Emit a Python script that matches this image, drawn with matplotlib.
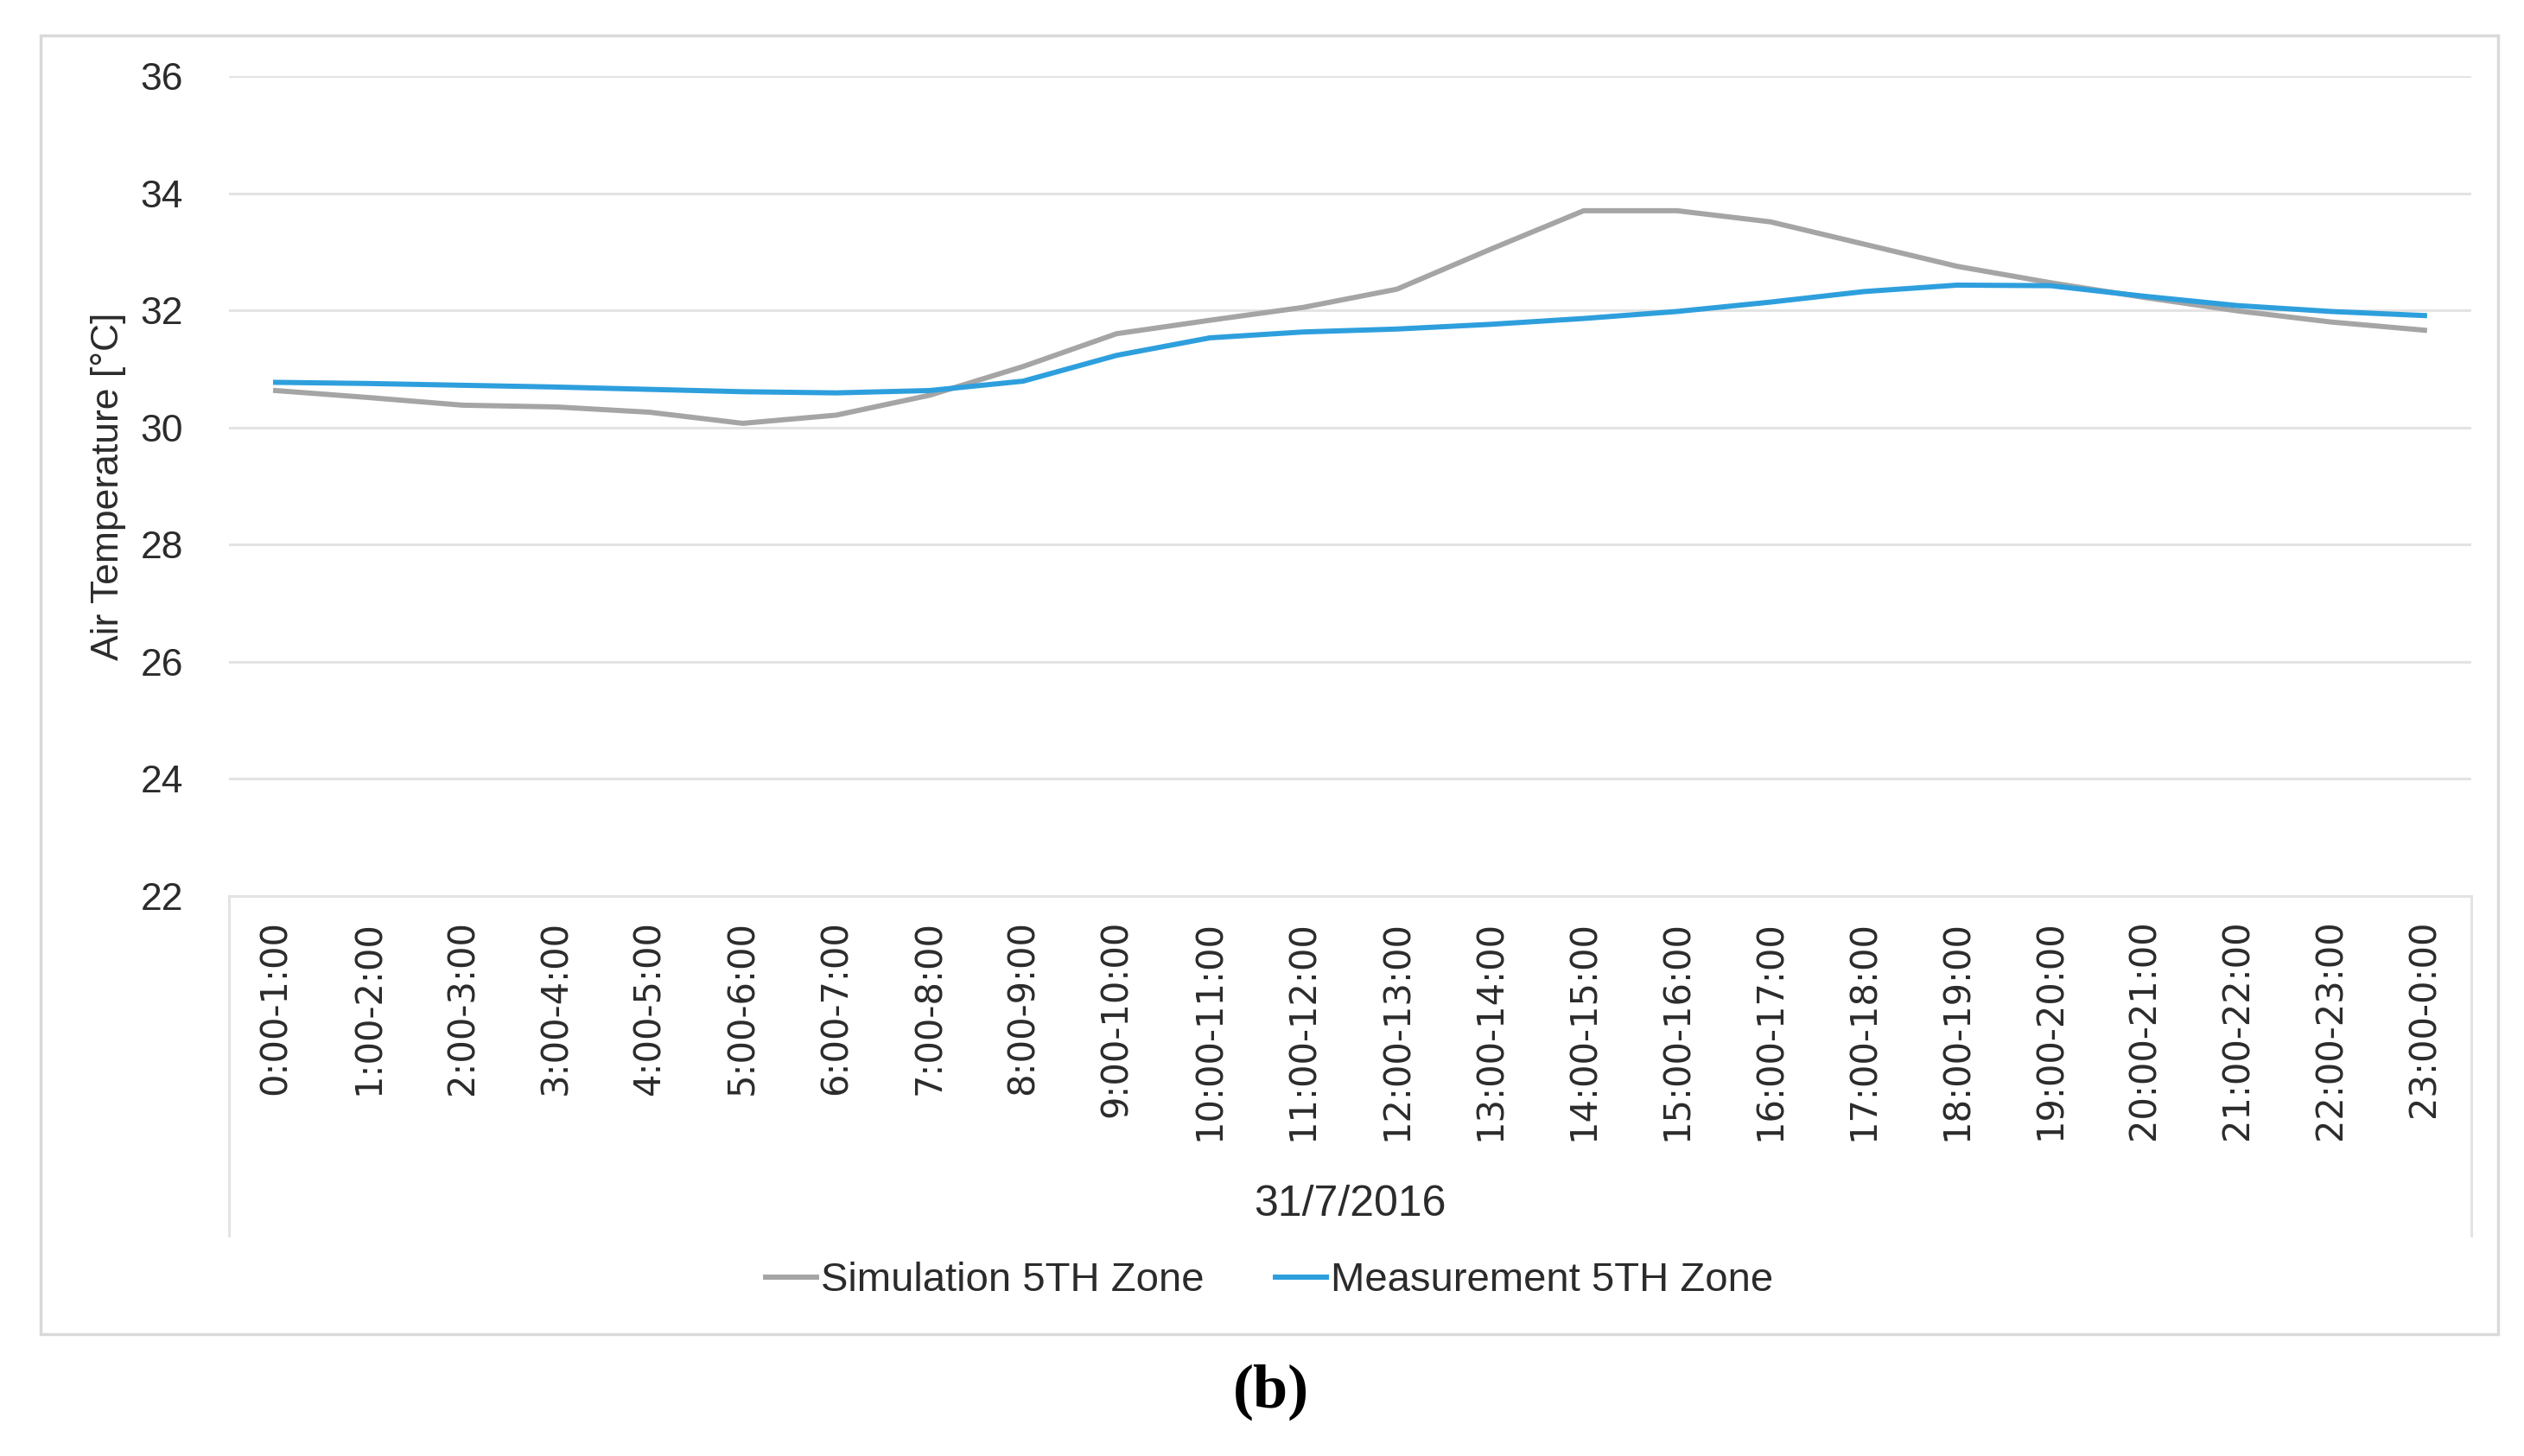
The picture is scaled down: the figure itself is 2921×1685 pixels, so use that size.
"""Air temperature, simulation vs measurement, 5th zone (31/7/2016)."""

import matplotlib
matplotlib.use('Agg')
import matplotlib.pyplot as plt
from matplotlib.patches import Rectangle

HOURS = ['0:00-1:00', '1:00-2:00', '2:00-3:00', '3:00-4:00', '4:00-5:00',
         '5:00-6:00', '6:00-7:00', '7:00-8:00', '8:00-9:00', '9:00-10:00',
         '10:00-11:00', '11:00-12:00', '12:00-13:00', '13:00-14:00',
         '14:00-15:00', '15:00-16:00', '16:00-17:00', '17:00-18:00',
         '18:00-19:00', '19:00-20:00', '20:00-21:00', '21:00-22:00',
         '22:00-23:00', '23:00-0:00']

SIMULATION = [30.63, 30.51, 30.38, 30.35, 30.26, 30.07, 30.21, 30.55,
              31.04, 31.60, 31.83, 32.05, 32.36, 33.04, 33.70, 33.70,
              33.51, 33.13, 32.75, 32.47, 32.22, 31.99, 31.80, 31.66]
MEASUREMENT = [30.77, 30.75, 30.72, 30.69, 30.65, 30.61, 30.59, 30.63,
               30.79, 31.23, 31.53, 31.63, 31.68, 31.76, 31.86, 31.98,
               32.14, 32.32, 32.43, 32.42, 32.24, 32.08, 31.98, 31.91]
Y_TICKS = [22, 24, 26, 28, 30, 32, 34, 36]

GREY = '#A5A5A5'
BLUE = '#2E9FDD'
GRID = '#E3E3E3'
TXT = '#2B2B2B'

fig = plt.figure(figsize=(29.21, 16.85), dpi=100)

# outer chart border
fig.patches.append(Rectangle((0.0161, 0.0837), 0.9736, 0.892, transform=fig.transFigure,
                             fill=False, edgecolor='#D9D9D9', linewidth=2.5))

ax = fig.add_axes([0.0907, 0.3846, 0.8884, 0.5632])
x = range(len(HOURS))
ax.plot(x, SIMULATION, color=GREY, linewidth=4.3, label='Simulation 5TH Zone')
ax.plot(x, MEASUREMENT, color=BLUE, linewidth=4.3, label='Measurement 5TH Zone')

ax.set_xlim(-0.5, len(HOURS) - 0.5)
ax.set_ylim(22, 36)
ax.set_yticks(Y_TICKS)
ax.set_yticklabels([str(v) for v in Y_TICKS], fontsize=32, family='Liberation Sans', color=TXT)
ax.set_xticks(list(x))
ax.set_xticklabels(HOURS, rotation=90, fontsize=30, family='DejaVu Sans', color=TXT)
ax.tick_params(axis='y', length=0, pad=38)
ax.tick_params(axis='x', length=0, pad=20)
ax.grid(axis='y', color=GRID, linewidth=2.2)
ax.set_axisbelow(True)
for side in ['top', 'left', 'right']:
    ax.spines[side].set_visible(False)
ax.spines['bottom'].set_color(GRID)
ax.spines['bottom'].set_linewidth(2.2)

# category-axis box lines below the plot
for xs in (0, 1):
    ax.plot([xs, xs], [0, -0.414], transform=ax.transAxes, clip_on=False,
            color=GRID, linewidth=2.2)

ax.set_ylabel('Air Temperature [°C]', fontsize=32, family='Liberation Sans', color=TXT)
ax.yaxis.set_label_coords(-0.046, 0.5)
ax.set_xlabel('31/7/2016', fontsize=36, family='Liberation Sans', color=TXT)
ax.xaxis.set_label_coords(0.5, -0.352)

fig.legend(loc='center', bbox_to_anchor=(0.503, 0.1204), ncol=2, frameon=False,
           prop={'family': 'Liberation Sans', 'size': 34}, labelcolor=TXT,
           handlelength=1.25, handletextpad=0.1, columnspacing=1.75)

fig.text(0.5036, 0.044, '(b)', ha='center', va='center', fontsize=52,
         family='Liberation Serif', fontweight='bold')

fig.savefig('out.png', dpi=100)
